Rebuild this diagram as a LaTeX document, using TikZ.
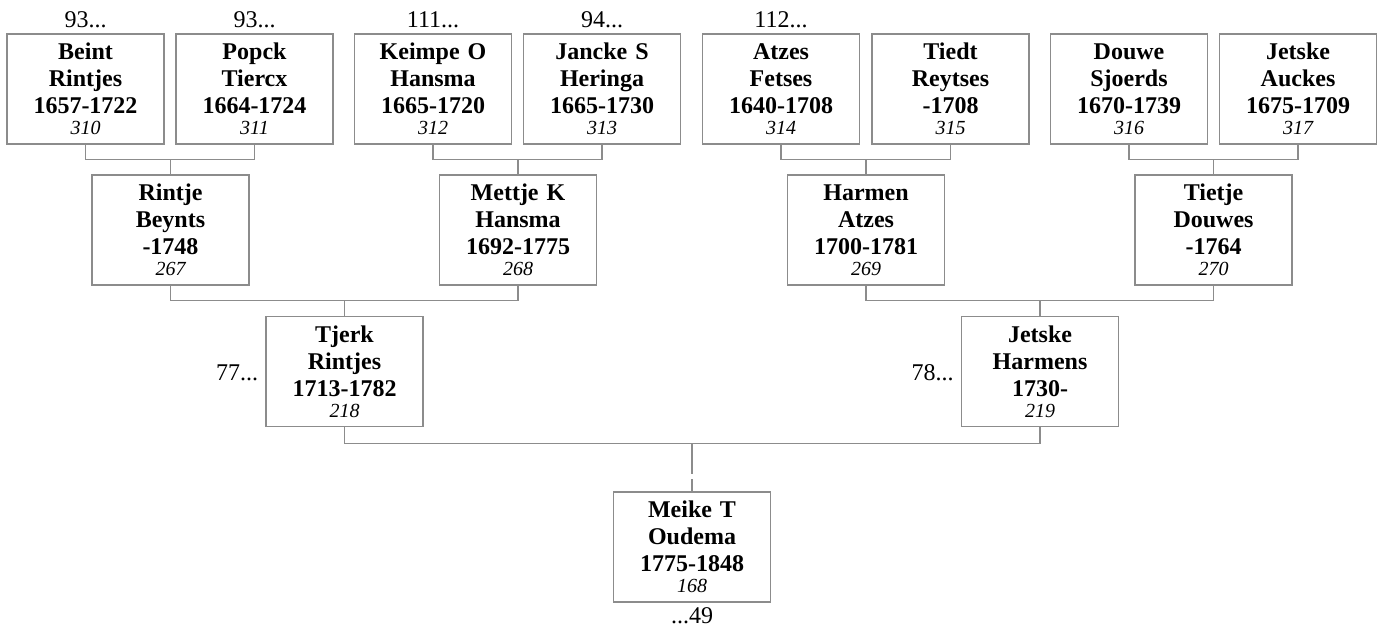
\documentclass[tikz,border=0pt]{standalone}
\usepackage{fontspec}
\setmainfont{Liberation Serif}
\usetikzlibrary{positioning}
\definecolor{linegray}{HTML}{8C8C8C}
\newcommand{\pnum}[1]{{\normalfont\itshape\fontsize{10}{10.5}\selectfont #1}}
\begin{document}
\begin{tikzpicture}[x=0.5pt, y=-0.5pt,
  person/.style={draw=linegray, line width=0.6pt, inner sep=0pt,
    minimum width=78.5pt, minimum height=55pt, text width=74pt, align=center,
    font=\fontsize{12}{13.5}\selectfont\bfseries},
  link/.style={draw=linegray, line width=0.6pt},
  tag/.style={font=\fontsize{12}{14}\selectfont, inner sep=0pt}]
\useasboundingbox (0,0) rectangle (1380,628);
%% --- generation 4 (top row) ---
\node[person] (p310) at (85.5,89)  {Beint\\Rintjes\\1657-1722\\[-3pt]\pnum{310}};
\node[person] (p311) at (254.5,89) {Popck\\Tiercx\\1664-1724\\[-3pt]\pnum{311}};
\node[person] (p312) at (433,89)   {Keimpe O\\Hansma\\1665-1720\\[-3pt]\pnum{312}};
\node[person] (p313) at (602,89)   {Jancke S\\Heringa\\1665-1730\\[-3pt]\pnum{313}};
\node[person] (p314) at (781,89)   {Atzes\\Fetses\\1640-1708\\[-3pt]\pnum{314}};
\node[person] (p315) at (950.5,89) {Tiedt\\Reytses\\-1708\\[-3pt]\pnum{315}};
\node[person] (p316) at (1129,89)  {Douwe\\Sjoerds\\1670-1739\\[-3pt]\pnum{316}};
\node[person] (p317) at (1298,89)  {Jetske\\Auckes\\1675-1709\\[-3pt]\pnum{317}};
%% --- generation 3 ---
\node[person] (p267) at (170.5,230)  {Rintje\\Beynts\\-1748\\[-3pt]\pnum{267}};
\node[person] (p268) at (518,230)    {Mettje K\\Hansma\\1692-1775\\[-3pt]\pnum{268}};
\node[person] (p269) at (866,230)    {Harmen\\Atzes\\1700-1781\\[-3pt]\pnum{269}};
\node[person] (p270) at (1213.5,230) {Tietje\\Douwes\\-1764\\[-3pt]\pnum{270}};
%% --- generation 2 ---
\node[person] (p218) at (344.5,371.5)  {Tjerk\\Rintjes\\1713-1782\\[-3pt]\pnum{218}};
\node[person] (p219) at (1040,371.5)   {Jetske\\Harmens\\1730-\\[-3pt]\pnum{219}};
%% --- generation 1 ---
\node[person] (p168) at (692,547) {Meike T\\Oudema\\1775-1848\\[-3pt]\pnum{168}};

%% --- connectors: father/mother/child ---
\foreach \f/\m/\c in {310/311/267, 312/313/268, 314/315/269, 316/317/270,
                      267/268/218, 269/270/219}{
  \path (p\f.south -| p\c.north) ++(0,15) coordinate (j\c);
  \draw[link] (p\f.south) |- (j\c) -| (p\m.south);
  \draw[link] (j\c) -- (p\c.north);
}
\path (p218.south -| p168.north) ++(0,16) coordinate (j168);
\path (j168) ++(0,31) coordinate (g168a) ++(0,5) coordinate (g168b);
\draw[link] (p218.south) |- (j168) -| (p219.south);
\draw[link] (j168) -- (g168a);
\draw[link] (g168b) -- (p168.north);

%% --- continuation tags ---
\foreach \p/\t in {310/93, 311/93, 312/111, 313/94, 314/112}{
  \node[tag, anchor=base] (t\p) at ([yshift=3pt]p\p.north) {\t...};
}
\node[tag, anchor=east] (t218) at ([xshift=-3.5pt,yshift=-0.8pt]p218.west) {77...};
\node[tag, anchor=east] (t219) at ([xshift=-3.5pt,yshift=-0.8pt]p219.west) {78...};
\node[tag, anchor=base] (t168) at ([yshift=-10.5pt]p168.south) {...49};
\end{tikzpicture}
\end{document}
